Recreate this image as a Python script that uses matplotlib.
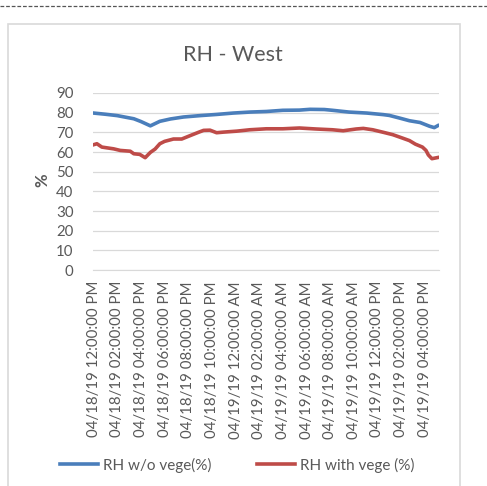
import matplotlib.pyplot as plt
from matplotlib.lines import Line2D
from matplotlib.patches import Rectangle

# hours since 04/18/19 12:00 PM
hours_blue = [0, 1.0, 2.0, 3.4, 4.0, 4.8, 5.6, 6.5, 7.6, 9.0, 10.4, 11.8, 13.2,
              14.6, 16.0, 17.4, 18.3, 19.5, 20.2, 21.6, 23.1, 24.5, 25.0, 25.9,
              26.7, 27.6, 28.4, 28.8, 29.1]
rh_no_vege = [79.8, 79.2, 78.5, 76.9, 75.5, 73.3, 75.6, 76.8, 77.8, 78.5, 79.1,
              79.8, 80.3, 80.6, 81.2, 81.3, 81.7, 81.6, 81.2, 80.3, 79.8, 79.0,
              78.6, 77.2, 75.9, 75.0, 73.1, 72.4, 73.4]

hours_red = [0, 0.28, 0.7, 1.7, 2.25, 3.1, 3.4, 3.9, 4.36, 4.8, 5.2, 5.6, 6.0,
             6.75, 7.45, 8.15, 8.86, 9.3, 9.84, 10.4, 10.96, 12.1, 13.2, 14.6,
             16.0, 17.4, 18.8, 20.2, 21.1, 22.2, 22.8, 23.6, 24.5, 25.3, 26.1,
             26.7, 27.2, 27.8, 28.1, 28.3, 28.6, 29.1]
rh_with_vege = [63.7, 64.2, 62.5, 61.6, 60.8, 60.4, 59.1, 58.8, 57.1, 59.8, 61.5,
                64.2, 65.4, 66.6, 66.6, 68.3, 70.0, 71.0, 71.1, 69.8, 70.1, 70.6,
                71.3, 71.8, 71.8, 72.2, 71.7, 71.3, 70.8, 71.7, 72.0, 71.3, 70.0,
                68.8, 67.1, 65.8, 64.0, 62.5, 60.8, 58.5, 56.6, 57.2]

tick_hours = list(range(0, 29, 2))
tick_labels = [
    "04/18/19 12:00:00 PM", "04/18/19 02:00:00 PM", "04/18/19 04:00:00 PM",
    "04/18/19 06:00:00 PM", "04/18/19 08:00:00 PM", "04/18/19 10:00:00 PM",
    "04/19/19 12:00:00 AM", "04/19/19 02:00:00 AM", "04/19/19 04:00:00 AM",
    "04/19/19 06:00:00 AM", "04/19/19 08:00:00 AM", "04/19/19 10:00:00 AM",
    "04/19/19 12:00:00 PM", "04/19/19 02:00:00 PM", "04/19/19 04:00:00 PM",
]

plt.rcParams["font.family"] = ["Lato", "DejaVu Sans"]
grey_text = "#595959"
blue = "#4A7EBB"
red = "#BE4B48"

W, H = 487, 486
fig = plt.figure(figsize=(W / 100, H / 100), dpi=100)

# dashed line across the top and chart border
fig.add_artist(Line2D([0, 1], [1 - 6 / H, 1 - 6 / H], color="#555555",
                      lw=0.9, ls=(0, (3, 1.5))))
fig.add_artist(Rectangle((8 / W, -0.05), (460 - 8) / W, 1.05 - 24 / H,
                         fill=False, ec="#D9D9D9", lw=1.2))

ax = fig.add_axes([93 / W, 1 - 270 / H, (439 - 93) / W, (270 - 93) / H])
ax.plot(hours_blue, rh_no_vege, color=blue, lw=2.6, label="RH w/o vege(%)")
ax.plot(hours_red, rh_with_vege, color=red, lw=2.6, label="RH with vege (%)")

ax.set_ylim(0, 90)
ax.set_yticks(range(0, 91, 10))
ax.set_xlim(-0.05, 29.2)
ax.set_xticks(tick_hours)
ax.set_xticklabels(tick_labels, rotation=90)
ax.grid(axis="y", color="#D9D9D9", lw=0.9)
ax.set_axisbelow(True)
for s in ["top", "right", "left"]:
    ax.spines[s].set_visible(False)
ax.spines["bottom"].set_color("#D9D9D9")
ax.tick_params(length=0, labelsize=10.8, colors=grey_text)
ax.tick_params(axis="x", pad=8)
ax.tick_params(axis="y", pad=14)

fig.text(233 / W, 1 - 55 / H, "RH - West", ha="center", va="center",
         fontsize=15.5, color=grey_text)
fig.text(42 / W, 1 - 180 / H, "%", ha="center", va="center", rotation=90,
         fontsize=12, fontweight="bold", color=grey_text)

leg = fig.legend(loc="center", bbox_to_anchor=(237 / W, 1 - 465 / H), ncol=2,
                 frameon=False, fontsize=11, handlelength=2.5,
                 handletextpad=0.3, columnspacing=3.0)
for t in leg.get_texts():
    t.set_color(grey_text)

fig.savefig("out.png", dpi=100)
